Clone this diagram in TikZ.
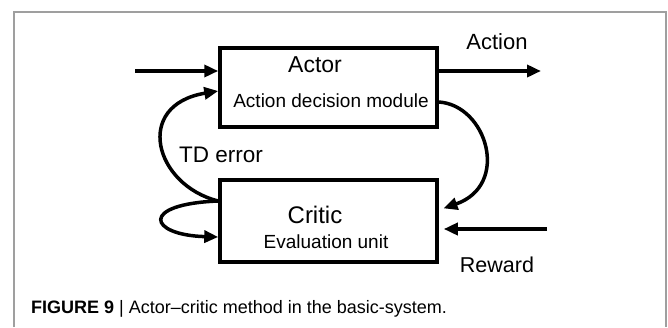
\documentclass[tikz,border=0pt]{standalone}
\usepackage{fontspec}
\setmainfont{Liberation Sans}
\usetikzlibrary{arrows.meta}

\tikzset{
  block/.style={draw, line width=3.5pt, minimum width=217pt, inner sep=0pt},
  flow/.style={line width=3.5pt, -{Triangle[length=14pt,width=12pt]}},
  lbl/.style={inner sep=0pt, anchor=center},
}

\begin{document}
\begin{tikzpicture}[x=1pt, y=-1pt]
  \useasboundingbox (0,0) rectangle (668,327);
  % open frame around the figure
  \draw[gray!75, line width=1.5pt] (14,327) -- (14,12) -- (666,12) -- (666,327);

  % the two blocks
  \node[block, minimum height=79pt] (actor) at (328.5,87.5) {};
  \node[block, minimum height=82pt] (critic) at (328.5,221) {};

  \node[lbl, font=\fontsize{23}{23}\selectfont] (actortitle) at (315,65) {Actor};
  \node[lbl, font=\fontsize{19}{19}\selectfont] (actorsub) at (331,101) {Action decision module};
  \node[lbl, font=\fontsize{24}{24}\selectfont] (critictitle) at (315,215) {Critic};
  \node[lbl, font=\fontsize{19}{19}\selectfont] (criticsub) at (326,242) {Evaluation unit};

  % signal labels
  \node[lbl, font=\fontsize{22}{22}\selectfont] (actionlbl) at (497,42) {Action};
  \node[lbl, font=\fontsize{21.5}{21.5}\selectfont] (rewardlbl) at (497,265) {Reward};
  \node[lbl, font=\fontsize{22.5}{22.5}\selectfont] (tdlbl) at (221,155) {TD error};

  % free ends of the outer arrows
  \coordinate (inlet) at (135,71);
  \coordinate (outlet) at (541,71);
  \coordinate (rewardin) at (547,229);

  % input and output of the actor
  \draw[flow] (inlet) -- ([yshift=16.5pt]actor.west);
  \draw[flow] ([yshift=16.5pt]actor.east) -- (outlet);

  % reward into the critic
  \draw[flow, shorten >=5pt] (rewardin) -- ([yshift=-8pt]critic.east);

  % actor output fed to the critic
  \draw[flow, shorten >=5pt] ([yshift=-14.5pt]actor.east)
    .. controls +(48,3) and +(72,-25) .. ([yshift=11pt]critic.east);

  % TD error back to the actor
  \draw[flow] ([yshift=20pt]critic.west)
    .. controls +(-64,-16) and +(-85,14) .. ([yshift=-3.5pt]actor.west);

  % critic self loop
  \draw[flow] ([yshift=20pt]critic.west)
    .. controls +(-79,3) and +(-70,-2) .. ([yshift=-16pt]critic.west);

  % caption
  \node[lbl, anchor=west, font=\fontsize{18}{18}\selectfont] (caption) at (31,309)
    {\textbf{FIGURE 9} | Actor–critic method in the basic-system.};
\end{tikzpicture}
\end{document}
